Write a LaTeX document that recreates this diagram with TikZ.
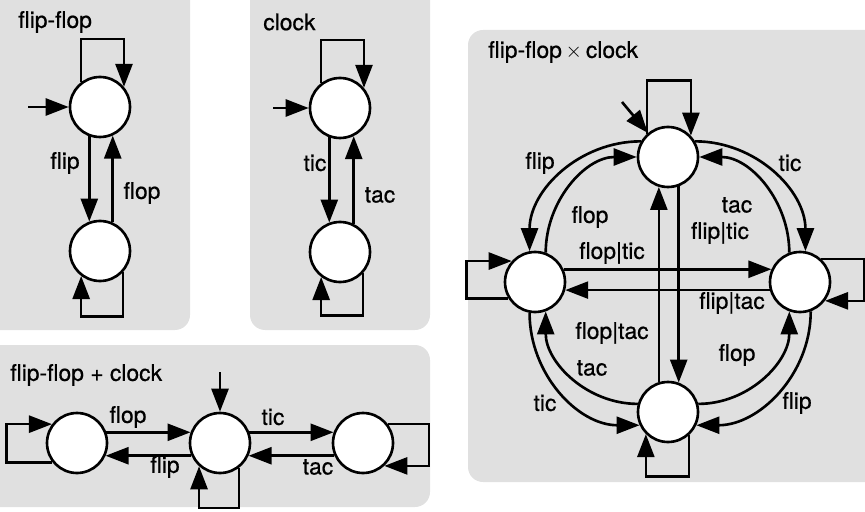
\documentclass[tikz,border=0pt]{standalone}
\usepackage{fontspec}
\setmainfont{TeX Gyre Heros}[FakeBold=0.6]
\usetikzlibrary{arrows.meta}

\begin{document}
\begin{tikzpicture}[x=0.02cm, y=0.02cm, line width=1.5pt,
    state/.style={draw, circle, fill=white, minimum size=1.2cm, inner sep=0pt},
    arr/.style={-{Triangle[length=0.46cm, width=0.34cm]}},
    lbl/.style={inner sep=0pt, font=\fontsize{13}{15}\selectfont},
    panel/.style={fill=black!12, rounded corners=0.3cm}]
    \useasboundingbox (0,0) rectangle (865,511);
    % Hintergruende
    \fill[panel] (-20,181) rectangle (190,530);
    \fill[panel] (250,181) rectangle (430,530);
    \fill[panel] (-20,4) rectangle (430,166);
    \fill[panel] (468,29) rectangle (885,481);
    % flip-flop
    \node[lbl, anchor=west] (T1) at (17,489) {flip-flop};
    \node[state] (A1) at (100,404) {};
    \node[state] (B1) at (100,260) {};
    \coordinate (i1) at (28,404);
    \draw[arr] (i1) -- (A1);
    \draw[arr] (A1.250) -- (B1.110);
    \draw[arr] (B1.66) -- (A1.294);
    \draw[arr] (A1.127) -- ++(0,43) -| (A1.40);
    \draw[arr] (B1.317) -- ++(0,-44) -| (B1.233);
    \node[lbl] (f1) at (65,348) {flip};
    \node[lbl] (g1) at (142,318) {flop};
    % clock
    \node[lbl, anchor=west] (T2) at (262,489) {clock};
    \node[state] (A2) at (340,403) {};
    \node[state] (B2) at (340,259) {};
    \coordinate (i2) at (273,403);
    \draw[arr] (i2) -- (A2);
    \draw[arr] (A2.250) -- (B2.110);
    \draw[arr] (B2.64) -- (A2.296);
    \draw[arr] (A2.127) -- ++(0,43) -| (A2.40);
    \draw[arr] (B2.317) -- ++(0,-42) -| (B2.233);
    \node[lbl] (f2) at (315,348) {tic};
    \node[lbl] (g2) at (380,316) {tac};
    % flip-flop + clock
    \node[lbl, anchor=west] (T3) at (9,136) {flip-flop + clock};
    \node[state] (L3) at (77,68) {};
    \node[state] (M3) at (220,68) {};
    \node[state] (R3) at (363,68) {};
    \coordinate (i3) at (220,139);
    \draw[arr] (i3) -- (M3);
    \draw[arr] (L3.20) -- (M3.160);
    \draw[arr] (M3.204) -- (L3.336);
    \draw[arr] (M3.20) -- (R3.160);
    \draw[arr] (R3.204) -- (M3.336);
    \draw[arr] (L3.218) -- ++(-46,0) |- (L3.143);
    \draw[arr] (M3.307) -- ++(0,-40) -| (M3.228);
    \draw[arr] (R3.37) -- ++(41,0) |- (R3.313);
    \node[lbl] (f3) at (128,94) {flop};
    \node[lbl] (g3) at (165,44) {flip};
    \node[lbl] (h3) at (273,94) {tic};
    \node[lbl] (k3) at (318,44) {tac};
    % flip-flop x clock
    \node[lbl, anchor=west] (T4) at (487,459) {flip-flop\,$\times$\,clock};
    \node[state] (T) at (668,354) {};
    \node[state] (L) at (535,229) {};
    \node[state] (R) at (800,229) {};
    \node[state] (B) at (668,99) {};
    \coordinate (i4) at (622,409);
    \draw[arr] (i4) -- (T);
    \draw[arr] (L.24) -- (R.156);
    \draw[arr] (R.195) -- (L.345);
    \draw[arr] (B.107) -- (T.253);
    \draw[arr] (T.290) -- (B.70);
    \draw[arr] (T.150) to[out=180, in=90] (L.100);
    \draw[arr] (L.70) to[out=90, in=180] (T.180);
    \draw[arr] (T.30) to[out=0, in=90] (R.80);
    \draw[arr] (R.110) to[out=90, in=0] (T.0);
    \draw[arr] (L.260) to[out=270, in=180] (B.205);
    \draw[arr] (B.165) to[out=180, in=270] (L.290);
    \draw[arr] (B.15) to[out=0, in=270] (R.250);
    \draw[arr] (R.290) to[out=270, in=0] (B.335);
    \draw[arr] (T.132) -- ++(0,53) -| (T.43);
    \draw[arr] (L.212) -- ++(-42,0) |- (L.138);
    \draw[arr] (R.47) -- ++(43,0) |- (R.323);
    \draw[arr] (B.312) -- ++(0,-41) -| (B.225);
    \node[lbl] (fa) at (540,348) {flip};
    \node[lbl] (ta) at (790,348) {tic};
    \node[lbl] (fb) at (590,294) {flop};
    \node[lbl] (tb) at (737,306) {tac};
    \node[lbl] (fc) at (720,278) {flip|tic};
    \node[lbl] (fd) at (612,258) {flop|tic};
    \node[lbl] (fe) at (732,208) {flip|tac};
    \node[lbl] (ff) at (612,178) {flop|tac};
    \node[lbl] (tc) at (592,143) {tac};
    \node[lbl] (fg) at (737,156) {flop};
    \node[lbl] (td) at (545,108) {tic};
    \node[lbl] (fh) at (797,108) {flip};
\end{tikzpicture}
\end{document}
